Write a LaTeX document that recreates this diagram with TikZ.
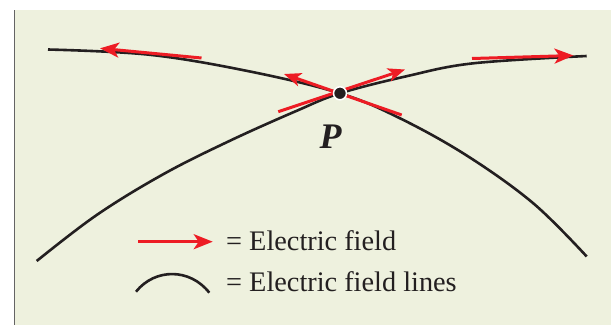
\documentclass[tikz,border=0pt]{standalone}
\usepackage{fontspec}
\setmainfont{Liberation Serif}
\usetikzlibrary{arrows.meta}
\definecolor{bgc}{RGB}{238,241,222}
\definecolor{fred}{RGB}{237,28,36}
\definecolor{edgegray}{RGB}{100,100,100}
\definecolor{ink}{RGB}{35,31,32}
\tikzset{
  fieldline/.style={line width=2.6pt, ink, line cap=butt},
  fieldvec/.style={line width=3pt, fred, -{Stealth[length=19pt,width=15pt,inset=5pt]}},
  smallvec/.style={line width=3pt, fred, -{Stealth[length=17pt,width=13.5pt,inset=4.5pt]}},
  legendtext/.style={font=\fontsize{28.3}{30}\selectfont, text=ink, inner sep=0pt, anchor=base west},
}
\begin{document}
\begin{tikzpicture}[x=1pt,y=-1pt]
\useasboundingbox (0,0) rectangle (611,325);
\fill[white] (0,0) rectangle (611,325);
\fill[bgc] (15,10) rectangle (611,325);
\draw[edgegray, line width=1.2pt] (14.5,10) -- (14.5,325);

% field lines
\draw[fieldline] plot[smooth, tension=0.6] coordinates {(48,49.5) (150,54.8) (250,71.5) (340,93.3) (400,118.3) (466.7,155.5) (533.3,203.3) (586.7,256.5)};
\draw[fieldline] plot[smooth, tension=0.6] coordinates {(36.7,261) (96.7,215) (163.3,174.2) (230,140.7) (296.7,110.8) (340,93.3) (406.7,76.2) (473.3,63.3) (586.7,56)};

% field vectors
\coordinate (a1) at (201.5,58);
\coordinate (a2) at (100,48.3);
\coordinate (b1) at (472,58.5);
\coordinate (b2) at (573.5,55.5);
\coordinate (c1) at (401.7,115);
\coordinate (c2) at (284,74);
\coordinate (d1) at (278.3,111.7);
\coordinate (d2) at (405,69.5);
\draw[fieldvec] (a1) -- (a2);
\draw[fieldvec] (b1) -- (b2);
\draw[smallvec] (c1) -- (c2);
\draw[smallvec] (d1) -- (d2);

% point P
\node[circle, fill=ink, draw=white, line width=1.5pt, minimum size=13pt, inner sep=0pt] (P) at (340,93.3) {};
\node[font=\fontsize{36}{38}\bfseries\itshape\selectfont, text=ink, inner sep=0pt, anchor=base west] (Plabel) at (319.5,148.3) {P};

% legend
\coordinate (l1) at (138.3,241.7);
\coordinate (l2) at (212.7,241.7);
\draw[fieldvec] (l1) -- (l2);
\coordinate (m1) at (136,291.7);
\coordinate (m2) at (209.3,292.7);
\draw[line width=2.6pt, ink] (m1) .. controls (155,268) and (190,268) .. (m2);
\node[legendtext] (t1) at (226,250.7) {= Electric field};
\node[legendtext] (t2) at (226,291.7) {= Electric field lines};
\end{tikzpicture}
\end{document}
